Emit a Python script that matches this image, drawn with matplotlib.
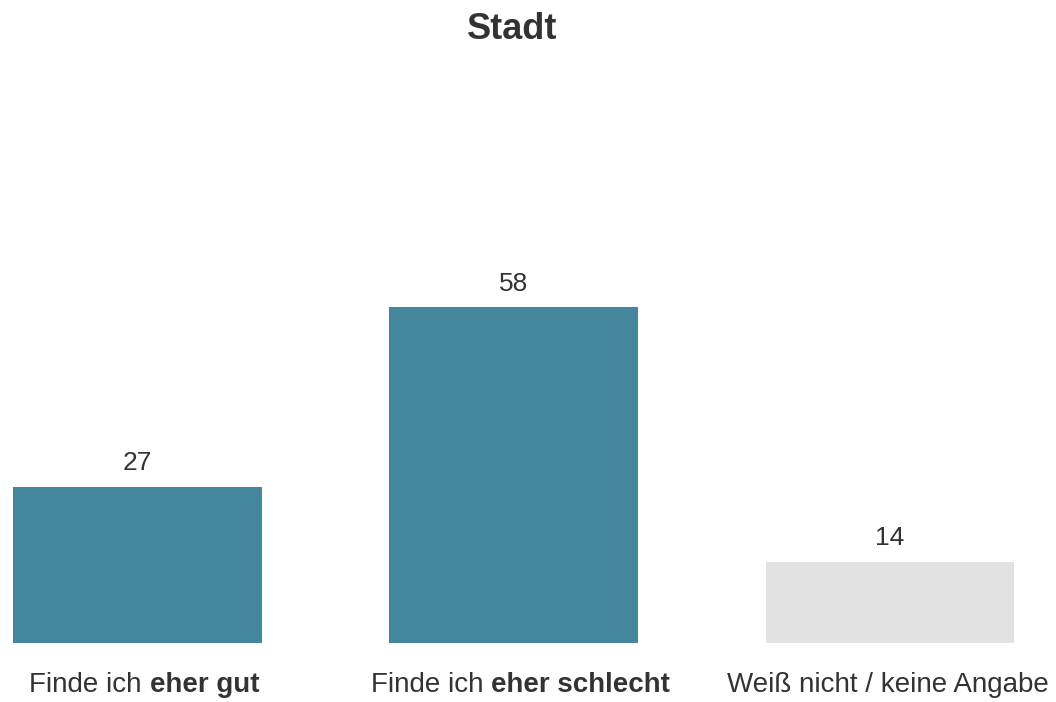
import numpy as np
import matplotlib.pyplot as plt

plt.rcParams['font.family'] = ['Liberation Sans', 'DejaVu Sans']

# data
categories_plain = ["Finde ich ", "Finde ich ", "Weiß nicht / keine Angabe"]
categories_bold = ["eher gut", "eher schlecht", ""]
values = [27, 58, 14]
colors = ["#44869b", "#44869b", "#e2e2e2"]

text_col = "#333333"

fig = plt.figure(figsize=(10.56, 7.02), dpi=100)
ax = fig.add_axes([0, 59 / 702, 1, 579 / 702])

x = np.arange(len(values))
bars = ax.bar(x, values, width=0.661, color=colors)

ax.set_xlim(-0.365, 2.441)
ax.set_ylim(0, 100)
ax.axis('off')

# value labels
for xi, v in zip(x, values):
    ax.annotate(str(v), (xi, v), xytext=(0, 12), textcoords='offset points',
                ha='center', va='baseline', fontsize=19, color=text_col)

# category labels, second part in bold
renderer = fig.canvas.get_renderer()
label_y = 1 - 692 / 702
for xi, plain, bold in zip(x, categories_plain, categories_bold):
    xc = ax.transData.transform((xi, 0))[0] / fig.bbox.width
    t1 = fig.text(0, label_y, plain, fontsize=20, color=text_col, va='baseline', ha='left')
    t2 = fig.text(0, label_y, bold, fontsize=20, color=text_col, va='baseline', ha='left',
                  fontweight='bold')
    w1 = t1.get_window_extent(renderer).width / fig.bbox.width
    w2 = t2.get_window_extent(renderer).width / fig.bbox.width if bold else 0
    shift = (7 if bold else -2) / fig.bbox.width
    left = xc - (w1 + w2) / 2 + shift
    t1.set_x(left)
    t2.set_x(left + w1)

fig.text(512.5 / 1056, 1 - 39 / 702, "Stadt", fontsize=26, fontweight='bold', color=text_col,
         ha='center', va='baseline')

fig.savefig("out.png", dpi=100)
